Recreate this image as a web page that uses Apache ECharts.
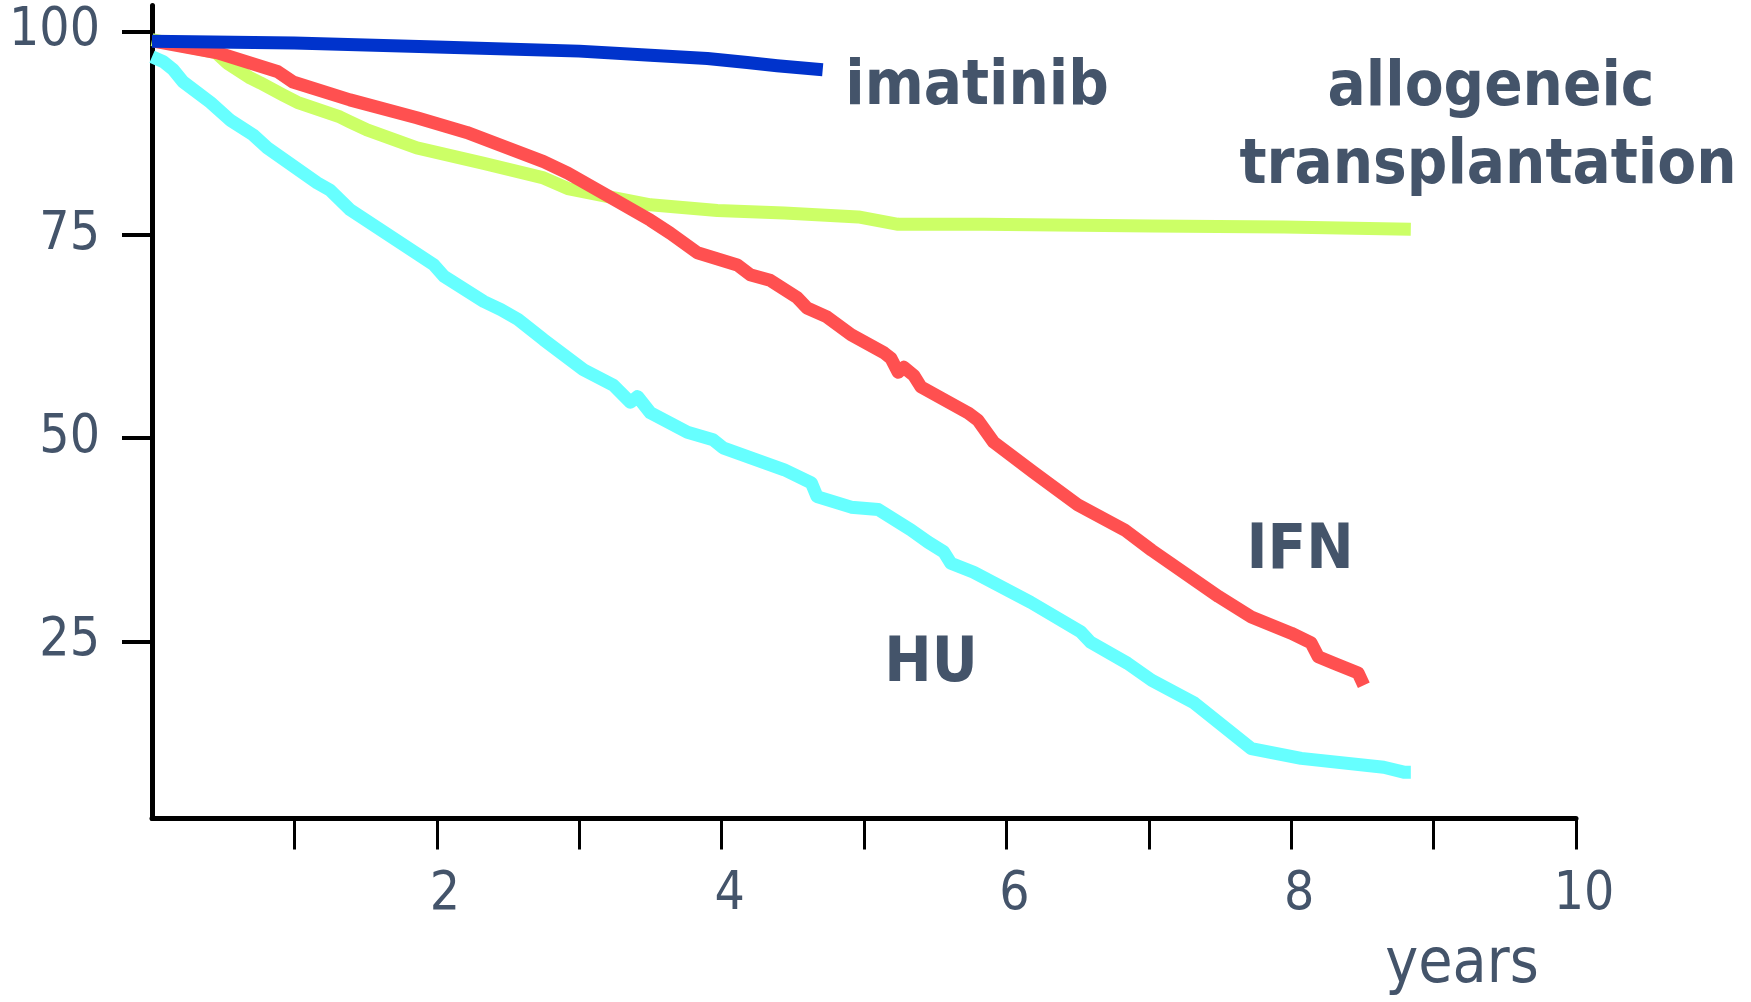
<!DOCTYPE html>
<html>
<head>
<meta charset="utf-8">
<title>CML survival</title>
<script src="https://cdn.jsdelivr.net/npm/echarts@6/dist/echarts.min.js"></script>
<style>
  html, body { margin: 0; padding: 0; background: #fff; }
  #chart { width: 1751px; height: 1002px; }
</style>
</head>
<body>
<div id="chart"></div>
<script>
// tick / label values
const xTickValues = [1, 2, 3, 4, 5, 6, 7, 8, 9, 10];
const xLabelValues = [2, 4, 6, 8, 10];
const yTickValues = [25, 50, 75, 100];

// survival curves, [years, percent]
const imatinib = [[0, 98.8], [1, 98.6], [2, 98.1], [3, 97.6], [3.5, 97.1], [3.9, 96.7],
  [4.18, 96.2], [4.39, 95.8], [4.71, 95.3]];

const allogeneic = [[0, 99.0], [0.45, 97.4], [0.53, 96.1], [0.69, 94.3], [0.76, 93.7],
  [0.92, 92.2], [1.02, 91.3], [1.32, 89.5], [1.39, 88.9], [1.51, 87.9], [1.86, 85.7],
  [2.33, 83.8], [2.75, 82.0], [2.92, 80.7], [3.15, 79.9], [3.5, 78.7], [3.97, 78.0],
  [4.44, 77.7], [4.96, 77.2], [5.24, 76.3], [5.84, 76.3], [7.02, 76.1], [7.95, 75.95],
  [8.84, 75.7]];

const ifn = [[0.02, 98.8], [0.46, 97.4], [0.88, 95.1], [0.99, 93.8], [1.39, 91.6],
  [1.86, 89.4], [2.21, 87.6], [2.57, 85.2], [2.75, 84.0], [2.92, 82.6], [3.22, 79.6],
  [3.5, 76.8], [3.64, 75.2], [3.83, 72.8], [4.11, 71.3], [4.2, 70.1], [4.34, 69.4],
  [4.53, 67.3], [4.6, 66.0], [4.74, 64.9], [4.91, 62.7], [5.14, 60.5], [5.19, 59.8],
  [5.24, 58.1], [5.28, 58.7], [5.35, 57.7], [5.4, 56.3], [5.73, 53.1], [5.8, 52.2],
  [5.91, 49.5], [6.19, 45.8], [6.5, 41.8], [6.83, 38.7], [7.02, 36.2], [7.49, 30.5],
  [7.72, 28.0], [8.0, 26.0], [8.14, 24.8], [8.19, 23.1], [8.3, 22.3], [8.47, 21.1],
  [8.51, 19.6]];

const hu = [[0, 96.9], [0.08, 96.3], [0.15, 95.3], [0.22, 93.8], [0.41, 91.3],
  [0.55, 89.1], [0.71, 87.3], [0.81, 85.7], [1.16, 81.4], [1.25, 80.5], [1.39, 78.1],
  [1.98, 71.3], [2.05, 69.9], [2.33, 66.8], [2.45, 65.8], [2.57, 64.6], [2.75, 62.1],
  [3.03, 58.4], [3.24, 56.5], [3.36, 54.4], [3.41, 55.1], [3.5, 53.1], [3.76, 50.7],
  [3.94, 49.8], [4.01, 48.8], [4.44, 46.1], [4.63, 44.5], [4.67, 42.8], [4.91, 41.5],
  [5.1, 41.2], [5.33, 38.7], [5.45, 37.2], [5.56, 36.0], [5.61, 34.6], [5.77, 33.5],
  [5.91, 32.2], [6.17, 29.8], [6.52, 26.2], [6.59, 24.9], [6.85, 22.3], [7.02, 20.2],
  [7.32, 17.4], [7.72, 11.8], [8.07, 10.6], [8.65, 9.5], [8.79, 8.9], [8.84, 8.9]];

const textColor = '#44546A';
const fontFam = '"DejaVu Sans Condensed", "DejaVu Sans", sans-serif';

function curve(name, data, color, z) {
  return {
    name: name,
    type: 'line',
    data: data,
    showSymbol: false,
    symbol: 'none',
    z: z,
    lineStyle: { color: color, width: 13, join: 'round' },
    emphasis: { disabled: true }
  };
}

function note(text, x, y) {
  return {
    type: 'text',
    x: x,
    y: y,
    style: {
      text: text,
      fill: textColor,
      font: 'bold 63px ' + fontFam,
      align: 'center',
      verticalAlign: 'middle'
    }
  };
}

let myChart = echarts.init(document.getElementById('chart'));
let option = {
  animation: false,
  backgroundColor: '#fff',
  grid: { left: 152, right: 175, top: 5.6, bottom: 183.5 },
  xAxis: {
    type: 'value',
    min: 0,
    max: 10,
    splitLine: { show: false },
    axisLine: { lineStyle: { color: '#000', width: 5 } },
    axisTick: {
      customValues: xTickValues,
      length: 31,
      lineStyle: { color: '#000', width: 3 }
    },
    axisLabel: {
      customValues: xLabelValues,
      margin: 50,
      color: textColor,
      fontSize: 53,
      fontFamily: fontFam,
      padding: [0, 0, 0, 16]
    }
  },
  yAxis: {
    type: 'value',
    min: 3.2,
    max: 103.2,
    splitLine: { show: false },
    axisLine: { show: true, lineStyle: { color: '#000', width: 5 } },
    axisTick: {
      show: true,
      customValues: yTickValues,
      length: 30,
      lineStyle: { color: '#000', width: 4 }
    },
    axisLabel: {
      customValues: yTickValues,
      margin: 52,
      color: textColor,
      fontSize: 53,
      fontFamily: fontFam
    }
  },
  series: [
    curve('HU', hu, '#66FFFF', 2),
    curve('allogeneic transplantation', allogeneic, '#CCFF66', 3),
    curve('IFN', ifn, '#FF5050', 4),
    curve('imatinib', imatinib, '#0033CC', 5)
  ],
  graphic: [
    note('imatinib', 977, 88),
    note('allogeneic', 1491, 89),
    note('transplantation', 1488, 167),
    note('IFN', 1300, 552),
    note('HU', 931, 665),
    {
      type: 'text',
      x: 1462,
      y: 966,
      style: {
        text: 'years',
        fill: textColor,
        font: '62px ' + fontFam,
        align: 'center',
        verticalAlign: 'middle'
      }
    }
  ]
};
myChart.setOption(option);
</script>
</body>
</html>
